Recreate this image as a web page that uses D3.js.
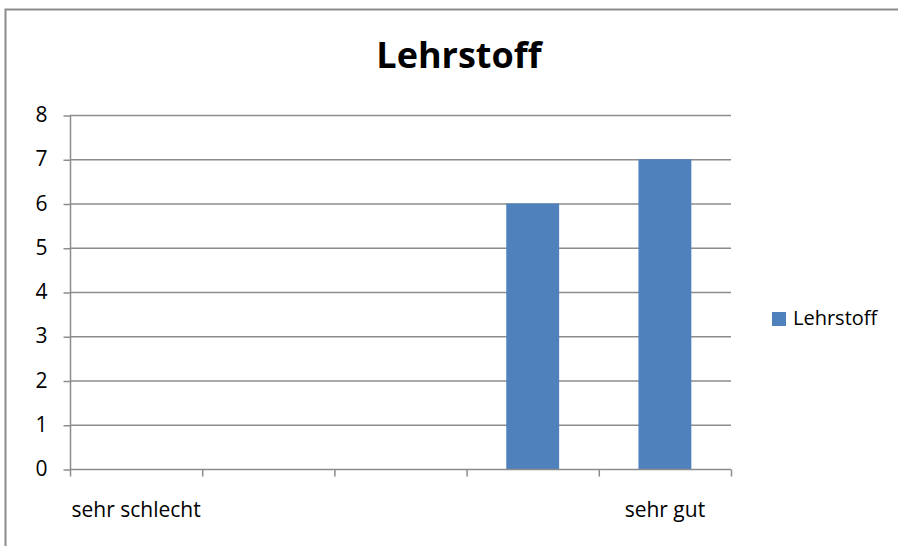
<!DOCTYPE html>
<html><head><meta charset="utf-8">
<script src="https://cdn.jsdelivr.net/npm/d3@7"></script>
<style>body{margin:0;background:#fff}svg{display:block}</style>
</head><body>
<svg id="c" width="898" height="546"></svg>
<script>
const title = "Lehrstoff";
const seriesName = "Lehrstoff";
const categories = ["1","2","3","4","5"];
const catLabels = ["sehr schlecht","","","","sehr gut"];
const values = [0,0,0,6,7];
const yTicks = [0,1,2,3,4,5,6,7,8];

(function(){
const svg = d3.select("#c");
const font = "Open Sans, Noto Sans, sans-serif";
const pL = 70, pR = 731, pT = 115, pB = 469;

svg.append("path").attr("d","M5.5,546 V9.5 H898").attr("fill","none").attr("stroke","#8c8c8c").attr("stroke-width",2);

const x = d3.scaleBand().domain(categories).range([pL,pR]).paddingInner(0.6).paddingOuter(0.3);
const xb = d3.scaleBand().domain(categories).range([pL,pR]);
const y = d3.scaleLinear().domain([0,8]).range([pB,pT]);

svg.append("g").selectAll("line").data(yTicks.filter(d=>d>0)).join("line")
  .attr("x1",pL).attr("x2",pR).attr("y1",d=>y(d)+0.5).attr("y2",d=>y(d)+0.5)
  .attr("stroke","#8c8c8c").attr("stroke-width",1.5);

const ya = svg.append("g").attr("transform",`translate(${pL+0.5},0)`)
  .call(d3.axisLeft(y).tickValues(yTicks).tickSize(7).tickPadding(16).tickFormat(d3.format("d")));
ya.select(".domain").attr("stroke","#8c8c8c").attr("stroke-width",1.5).attr("d",`M0,${pT+0.5}V${pB+0.5}`);
ya.selectAll(".tick line").attr("stroke","#8c8c8c").attr("stroke-width",1.5).attr("transform","translate(0,0.5)");
ya.selectAll(".tick text").attr("font-family",font).attr("font-size",21).attr("fill","#000");

svg.append("g").selectAll("rect").data(values).join("rect")
  .attr("x",(d,i)=>x(categories[i])).attr("width",x.bandwidth())
  .attr("y",d=>y(d)).attr("height",d=>y(0)-y(d))
  .attr("fill","#4f81bd");

const xa = svg.append("g").attr("transform",`translate(0,${pB+0.5})`);
xa.append("line").attr("x1",pL).attr("x2",pR).attr("stroke","#8c8c8c").attr("stroke-width",1.5);
const edges = categories.map(c=>xb(c)).concat([pR]);
xa.selectAll("line.t").data(edges).join("line").attr("class","t")
  .attr("x1",d=>d+0.5).attr("x2",d=>d+0.5).attr("y1",0).attr("y2",7)
  .attr("stroke","#8c8c8c").attr("stroke-width",1.5);
xa.selectAll("text").data(categories).join("text")
  .attr("x",c=>xb(c)+xb.bandwidth()/2).attr("y",47.5)
  .attr("text-anchor","middle").attr("font-family",font).attr("font-size",21).attr("fill","#000")
  .text((c,i)=>catLabels[i]);

svg.append("text").attr("x",459).attr("y",68).attr("text-anchor","middle")
  .attr("font-family",font).attr("font-weight","bold").attr("font-size",36).attr("fill","#000").text(title);

svg.append("rect").attr("x",772).attr("y",312).attr("width",14).attr("height",14).attr("fill","#4f81bd");
svg.append("text").attr("x",793).attr("y",325).attr("font-family",font).attr("font-size",20).attr("fill","#000").text(seriesName);
})();
</script>
</body></html>
